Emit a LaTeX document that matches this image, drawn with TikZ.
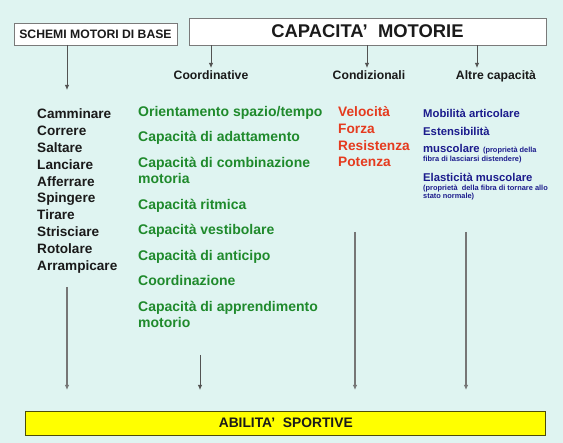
\documentclass[tikz,border=0pt]{standalone}
\usepackage{fontspec}
\setmainfont{Liberation Sans}
\usepackage{tikz}
\usetikzlibrary{positioning,arrows.meta}
\definecolor{bgcyan}   {HTML}{DFF4F1}
\definecolor{ink}      {HTML}{1A1A1A}
\definecolor{coordgreen}{HTML}{1F8A2C}
\definecolor{condred}  {HTML}{E53B1F}
\definecolor{altblue}  {HTML}{1B1B8C}
\definecolor{boxline}  {HTML}{7A7A7A}
\definecolor{sportyel} {HTML}{FFFF00}
\tikzset{
  >={Latex[length=5pt,width=4.4pt]},
  % --- nodes
  hdr/.style   = {draw=boxline, fill=white, line width=0.8pt, inner sep=0pt,
                  font=\bfseries, text=ink},
  cat/.style   = {anchor=base, inner sep=0pt, font=\fontsize{12.2}{14}\selectfont\bfseries, text=ink},
  blk/.style   = {anchor=base west, inner sep=0pt, text=ink,
                  font=\fontsize{13.6}{16}\selectfont\bfseries},
  grn/.style   = {anchor=base west, inner sep=0pt, text=coordgreen, align=left,
                  font=\fontsize{14}{16}\selectfont\bfseries},
  red/.style   = {anchor=base west, inner sep=0pt, text=condred, align=left,
                  font=\fontsize{13.7}{16.7}\selectfont\bfseries},
  blu/.style   = {anchor=base west, inner sep=0pt, text=altblue,
                  font=\fontsize{11.3}{13}\selectfont\bfseries},
  tiny/.style  = {anchor=base west, inner sep=0pt, text=altblue,
                  font=\fontsize{7.4}{8}\selectfont\bfseries},
  % --- edges
  e/.style     = {->, line width=0.8pt, draw=ink!75},
  elong/.style = {->, line width=1.1pt, draw=ink!60},
}

\begin{document}
\begin{tikzpicture}[x=1pt,y=-1pt]
  \fill[bgcyan] (0,0) rectangle (563,443);
  \useasboundingbox (0,0) rectangle (563,443);

  % header boxes
  \node[hdr, minimum width=163pt, minimum height=22pt,
        font=\fontsize{12.2}{14}\selectfont\bfseries] (schemi) at (95.5,34) {SCHEMI MOTORI DI BASE};
  \node[hdr, minimum width=357pt, minimum height=27pt,
        font=\fontsize{18.4}{20}\selectfont\bfseries] (capac) at (367.5,31.5) {CAPACITA'\ \ MOTORIE};

  % category labels
  \node[cat] (coord) at (211,80) {Coordinative};
  \node[cat] (cond)  at (369,80) {Condizionali};
  \node[cat] (altre) at (496,80) {Altre capacità};

  \coordinate (sch0) at (67,45);   \coordinate (sch1) at (67,90);
  \draw[e] (sch0) -- (sch1);
  \draw[e] (capac.south -| 211,0) -- (211,68);
  \draw[e] (capac.south -| 367,0) -- (367,68);
  \draw[e] (capac.south -| 477,0) -- (477,68);

  % schemi motori
  \foreach \w [count=\i from 0] in {Camminare,Correre,Saltare,Lanciare,Afferrare,
                                    Spingere,Tirare,Strisciare,Rotolare,Arrampicare}
    \node[blk] (s\i) at (37,119+16.8*\i) {\w};

  % coordinative
  \node[grn] (g1) at (138,117) {Orientamento spazio/tempo};
  \node[grn] (g2) at (138,142) {Capacità di adattamento};
  \node[grn] (g3) at (138,184) {Capacità di combinazione\\motoria};
  \node[grn] (g4) at (138,210) {Capacità ritmica};
  \node[grn] (g5) at (138,235) {Capacità vestibolare};
  \node[grn] (g6) at (138,261) {Capacità di anticipo};
  \node[grn] (g7) at (138,286) {Coordinazione};
  \node[grn] (g8) at (138,328) {Capacità di apprendimento\\motorio};

  % condizionali
  \node[red] (r1) at (338,167) {Velocità\\Forza\\Resistenza\\Potenza};

  % altre capacita
  \node[blu] (b1) at (423,118) {Mobilità articolare};
  \node[blu] (b2) at (423,136) {Estensibilità};
  \node[blu] (b3) at (423,153) {muscolare};
  \node[tiny, right=3pt of b3.base east, anchor=base west] (b3x) {(proprietà della};
  \node[tiny] (b4) at (423,162) {fibra di lasciarsi distendere)};
  \node[blu] (b5) at (423,182) {Elasticità muscolare};
  \node[tiny] (b6) at (423,190.5) {(proprietà\ \ della fibra di tornare allo};
  \node[tiny] (b7) at (423,198.5) {stato normale)};

  % abilita sportive
  \node[hdr, fill=sportyel, draw=ink!55!sportyel!60!black, minimum width=520pt, minimum height=24pt,
        font=\fontsize{13.8}{15}\selectfont\bfseries] (abil) at (285.75,423) {ABILITA'\ \ SPORTIVE};

  \coordinate (a0) at (67,287);  \coordinate (a1) at (67,390);
  \coordinate (c0) at (200,355); \coordinate (c1) at (200,390);
  \coordinate (d0) at (355,232); \coordinate (d1) at (355,390);
  \coordinate (f0) at (466,232); \coordinate (f1) at (466,390);
  \draw[elong] (a0) -- (a1);
  \draw[e]     (c0) -- (c1);
  \draw[elong] (d0) -- (d1);
  \draw[elong] (f0) -- (f1);
\end{tikzpicture}
\end{document}
